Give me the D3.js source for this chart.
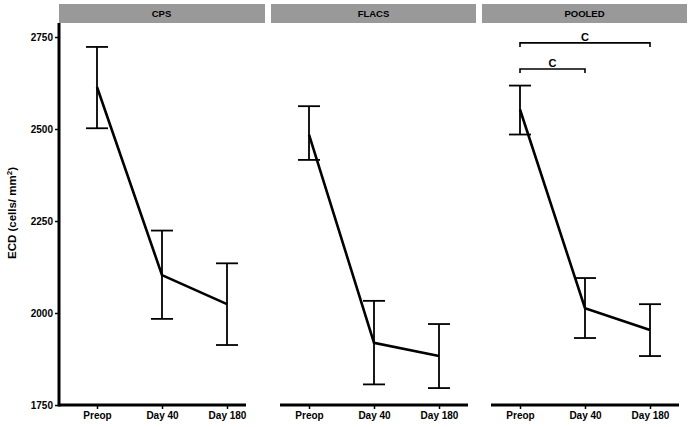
<!DOCTYPE html>
<html><head><meta charset="utf-8">
<script src="https://cdn.jsdelivr.net/npm/d3@7"></script>
<style>body{margin:0;background:#fff}svg{display:block}text{font-family:"Liberation Sans",Arial,sans-serif}</style>
</head><body><svg id="c" width="692" height="427"></svg>
<script>
const panels = ["CPS", "FLACS", "POOLED"];
const timepoints = ["Preop", "Day 40", "Day 180"];
const meanCPS = [2614, 2103, 2024];
const upperCPS = [2723, 2224, 2135];
const lowerCPS = [2502, 1984, 1913];
const meanFLACS = [2485, 1919, 1883];
const upperFLACS = [2562, 2033, 1970];
const lowerFLACS = [2416, 1806, 1796];
const meanPOOLED = [2553, 2013, 1954];
const upperPOOLED = [2618, 2095, 2024];
const lowerPOOLED = [2485, 1932, 1883];
const yTicks = [1750, 2000, 2250, 2500, 2750];
const sigLabels = ["C", "C"];
const sigPairs = [["Preop", "Day 40"], ["Preop", "Day 180"]];
const sigLevels = [2663, 2734];

const series = [
  {name: panels[0], mean: meanCPS, up: upperCPS, lo: lowerCPS},
  {name: panels[1], mean: meanFLACS, up: upperFLACS, lo: lowerFLACS},
  {name: panels[2], mean: meanPOOLED, up: upperPOOLED, lo: lowerPOOLED}
];

const svg = d3.select("#c");
const y = d3.scaleLinear().domain([1750, 2750]).range([405, 37]);
const panelLeft = [59, 271, 482], panelW = 205;
const axisY = 405;

// y axis (first panel)
const ya = svg.append("g").attr("transform", "translate(59,0)")
  .call(d3.axisLeft(y).tickValues(yTicks).tickSize(4).tickPadding(2).tickFormat(d3.format("d")));
ya.select(".domain").remove();
ya.selectAll(".tick line").attr("stroke", "#000").attr("stroke-width", 1.5);
ya.selectAll(".tick text").attr("font-size", 10).attr("font-weight", "bold").attr("fill", "#000");
svg.append("line").attr("x1", 59).attr("x2", 59).attr("y1", 23).attr("y2", axisY + 1.5)
  .attr("stroke", "#000").attr("stroke-width", 3);

svg.append("text").attr("transform", "translate(16,213) rotate(-90)")
  .attr("text-anchor", "middle").attr("font-size", 11.5).attr("font-weight", "bold")
  .text("ECD (cells/ mm").append("tspan").attr("dy", -4).attr("font-size", 8).text("2")
  .select(function(){return this.parentNode;}).append("tspan").attr("dy", 4).text(")");

series.forEach((s, i) => {
  const L = panelLeft[i];
  const x = d3.scalePoint().domain(timepoints).range([L + 38, L + 168]);
  const g = svg.append("g");
  // strip
  g.append("rect").attr("x", L).attr("y", 4).attr("width", panelW + (i === 0 ? 1 : 0)).attr("height", 19)
    .attr("fill", "#999999");
  g.append("text").attr("x", L + panelW / 2).attr("y", 17).attr("text-anchor", "middle")
    .attr("font-size", 9.5).attr("font-weight", "bold").text(s.name);
  // x axis
  const xa = g.append("g").attr("transform", `translate(0,${axisY})`)
    .call(d3.axisBottom(x).tickSize(4).tickPadding(3));
  xa.select(".domain").remove();
  xa.selectAll(".tick line").attr("stroke", "#000").attr("stroke-width", 1.5);
  xa.selectAll(".tick text").attr("font-size", 10).attr("font-weight", "bold").attr("fill", "#000");
  const x0 = i === 0 ? L : x("Preop") - 29;
  const x1 = x("Day 180") + (i === 0 ? 19 : 29);
  g.append("line").attr("x1", x0).attr("x2", x1).attr("y1", axisY).attr("y2", axisY)
    .attr("stroke", "#000").attr("stroke-width", 3);
  // error bars
  timepoints.forEach((t, j) => {
    const cx = x(t);
    g.append("line").attr("x1", cx).attr("x2", cx).attr("y1", y(s.up[j])).attr("y2", y(s.lo[j]))
      .attr("stroke", "#000").attr("stroke-width", 1.8);
    [s.up[j], s.lo[j]].forEach(v => {
      g.append("line").attr("x1", cx - 11).attr("x2", cx + 11).attr("y1", y(v)).attr("y2", y(v))
        .attr("stroke", "#000").attr("stroke-width", 1.8);
    });
  });
  // mean line
  g.append("path").datum(s.mean)
    .attr("d", d3.line().x((d, j) => x(timepoints[j])).y(d => y(d)))
    .attr("fill", "none").attr("stroke", "#000").attr("stroke-width", 2.6).attr("stroke-linejoin", "miter");
  // significance brackets on pooled
  if (i === 2) {
    sigPairs.forEach((p, k) => {
      const a = x(p[0]), b = x(p[1]), yy = y(sigLevels[k]);
      g.append("path").attr("d", `M${a},${yy + 4}V${yy}H${b}V${yy + 4}`)
        .attr("fill", "none").attr("stroke", "#000").attr("stroke-width", 1.6);
      g.append("text").attr("x", (a + b) / 2).attr("y", yy - 2).attr("text-anchor", "middle")
        .attr("font-size", 11).attr("font-weight", "bold").text(sigLabels[k]);
    });
  }
});
</script></body></html>
